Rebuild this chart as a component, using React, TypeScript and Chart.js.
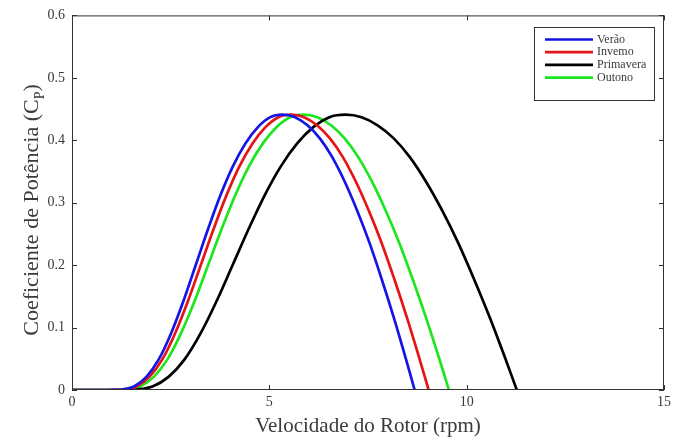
import React, { useEffect, useRef } from "react";
import { Chart, registerables } from "chart.js";

Chart.register(...registerables);

const seriesNames = ["Verão", "Invemo", "Primavera", "Outono"];
const seriesColors = ["#1414e6", "#e61414", "#000000", "#1ee61e"];

// Cp values (same relative shape for every season)
const cpValues = [0, 0, 0.00002, 0.0007, 0.0055, 0.021, 0.049, 0.091, 0.143, 0.201, 0.259, 0.313, 0.359, 0.395, 0.421, 0.437, 0.441, 0.437, 0.424, 0.403, 0.373, 0.334, 0.288, 0.236, 0.177, 0.114, 0.046, 0];

const veraoX = [0, 0.628, 0.942, 1.256, 1.57, 1.884, 2.198, 2.512, 2.826, 3.14, 3.454, 3.768, 4.082, 4.396, 4.71, 5.024, 5.338, 5.652, 5.966, 6.28, 6.594, 6.908, 7.222, 7.536, 7.85, 8.164, 8.478, 8.682];
const invernoX = [0, 0.654, 0.98, 1.307, 1.634, 1.961, 2.288, 2.614, 2.941, 3.268, 3.595, 3.922, 4.248, 4.575, 4.902, 5.229, 5.556, 5.882, 6.209, 6.536, 6.863, 7.19, 7.516, 7.843, 8.17, 8.497, 8.824, 9.036];
const primaveraX = [0, 0.815, 1.223, 1.63, 2.038, 2.446, 2.853, 3.261, 3.668, 4.076, 4.484, 4.891, 5.299, 5.706, 6.114, 6.522, 6.929, 7.337, 7.744, 8.152, 8.56, 8.967, 9.375, 9.782, 10.19, 10.598, 11.005, 11.27];
const outonoX = [0, 0.691, 1.036, 1.382, 1.727, 2.072, 2.418, 2.763, 3.109, 3.454, 3.799, 4.145, 4.49, 4.836, 5.181, 5.526, 5.872, 6.217, 6.563, 6.908, 7.253, 7.599, 7.944, 8.29, 8.635, 8.98, 9.326, 9.55];

const xTicks = [0, 5, 10, 15];
const yTicks = [0, 0.1, 0.2, 0.3, 0.4, 0.5, 0.6];

const xTitle = "Velocidade do Rotor (rpm)";
const yTitleMain = "Coeficiente de Potência (C";
const yTitleSub = "P";
const yTitleEnd = ")";

const FONT = "'Liberation Serif', 'Times New Roman', serif";
const TEXT = "#3a3a3a";

function zip(xs: number[], ys: number[]) {
  return xs.map((x, i) => ({ x, y: ys[i] }));
}

const framePlugin = {
  id: "frame",
  afterDraw(chart: any) {
    const { ctx, chartArea } = chart;
    const { left, right, top, bottom } = chartArea;
    const xs = chart.scales.x;
    const ys = chart.scales.y;
    ctx.save();
    ctx.strokeStyle = "#333333";
    ctx.lineWidth = 1;
    ctx.strokeRect(left + 0.5, top + 0.5, right - left - 1, bottom - top - 1);
    const tl = 5;
    ctx.beginPath();
    xTicks.forEach((v) => {
      const px = Math.round(xs.getPixelForValue(v)) + 0.5;
      ctx.moveTo(px, bottom);
      ctx.lineTo(px, bottom - tl);
      ctx.moveTo(px, top);
      ctx.lineTo(px, top + tl);
    });
    yTicks.forEach((v) => {
      const py = Math.round(ys.getPixelForValue(v)) + 0.5;
      ctx.moveTo(left, py);
      ctx.lineTo(left + tl, py);
      ctx.moveTo(right, py);
      ctx.lineTo(right - tl, py);
    });
    ctx.stroke();

    // y title with subscript
    const mainFont = `22px ${FONT}`;
    const subFont = `14px ${FONT}`;
    ctx.translate(38, 210);
    ctx.rotate(-Math.PI / 2);
    ctx.fillStyle = TEXT;
    ctx.textBaseline = "alphabetic";
    ctx.textAlign = "left";
    ctx.font = mainFont;
    const w1 = ctx.measureText(yTitleMain).width;
    const w3 = ctx.measureText(yTitleEnd).width;
    ctx.font = subFont;
    const w2 = ctx.measureText(yTitleSub).width;
    const total = w1 + w2 + w3;
    let x0 = -total / 2;
    ctx.font = mainFont;
    ctx.fillText(yTitleMain, x0, 0);
    x0 += w1;
    ctx.font = subFont;
    ctx.fillText(yTitleSub, x0, 6);
    x0 += w2;
    ctx.font = mainFont;
    ctx.fillText(yTitleEnd, x0, 0);
    ctx.restore();

    // legend
    ctx.save();
    const lx = 534.5, ly = 27.5, lw = 120, lh = 73;
    ctx.fillStyle = "#ffffff";
    ctx.fillRect(lx, ly, lw, lh);
    ctx.strokeStyle = "#333333";
    ctx.lineWidth = 1;
    ctx.strokeRect(lx, ly, lw, lh);
    ctx.font = `12px ${FONT}`;
    ctx.textBaseline = "middle";
    ctx.textAlign = "left";
    seriesNames.forEach((name, i) => {
      const yy = 39.5 + i * 12.7;
      ctx.strokeStyle = seriesColors[i];
      ctx.lineWidth = 2.7;
      ctx.beginPath();
      ctx.moveTo(545, yy);
      ctx.lineTo(593, yy);
      ctx.stroke();
      ctx.fillStyle = TEXT;
      ctx.fillText(name, 597, yy);
    });
    ctx.restore();
  },
};

export default function App() {
  const ref = useRef<HTMLCanvasElement | null>(null);
  useEffect(() => {
    if (!ref.current) return;
    const datasets = [
      zip(veraoX, cpValues),
      zip(invernoX, cpValues),
      zip(primaveraX, cpValues),
      zip(outonoX, cpValues),
    ].map((data, i) => ({
      label: seriesNames[i],
      data,
      borderColor: seriesColors[i],
      backgroundColor: seriesColors[i],
      borderWidth: 2.7,
      pointRadius: 0,
      fill: false,
      tension: 0.35,
    }));
    const chart = new Chart(ref.current, {
      type: "line",
      data: { datasets },
      options: {
        animation: false,
        responsive: false,
        maintainAspectRatio: false,
        layout: { padding: { top: 14, right: 7, left: 0, bottom: 0 } },
        plugins: { legend: { display: false }, tooltip: { enabled: false } },
        scales: {
          x: {
            type: "linear",
            min: 0,
            max: 15,
            afterBuildTicks: (s: any) => {
              s.ticks = xTicks.map((v) => ({ value: v }));
            },
            afterFit: (s: any) => {
              s.height = 49;
            },
            grid: { display: false, drawTicks: false },
            border: { display: false },
            ticks: {
              color: TEXT,
              font: { family: FONT, size: 14 },
              padding: 4,
              maxRotation: 0,
              callback: (v: any) => String(v),
            },
            title: {
              display: true,
              text: xTitle,
              color: TEXT,
              font: { family: FONT, size: 21 },
              padding: { top: 0, bottom: 0 },
            },
          },
          y: {
            type: "linear",
            min: 0,
            max: 0.6,
            afterBuildTicks: (s: any) => {
              s.ticks = yTicks.map((v) => ({ value: v }));
            },
            afterFit: (s: any) => {
              s.width = 72;
            },
            grid: { display: false, drawTicks: false },
            border: { display: false },
            ticks: {
              color: TEXT,
              font: { family: FONT, size: 14 },
              padding: 7,
              callback: (v: any) => (Number(v) === 0 ? "0" : Number(v).toFixed(1)),
            },
          },
        },
      },
      plugins: [framePlugin],
    });
    return () => chart.destroy();
  }, []);
  return (
    <div style={{ position: "absolute", left: 0, top: 0, width: 675, height: 439, background: "#fff" }}>
      <canvas ref={ref} width={675} height={439} style={{ display: "block" }} />
    </div>
  );
}
